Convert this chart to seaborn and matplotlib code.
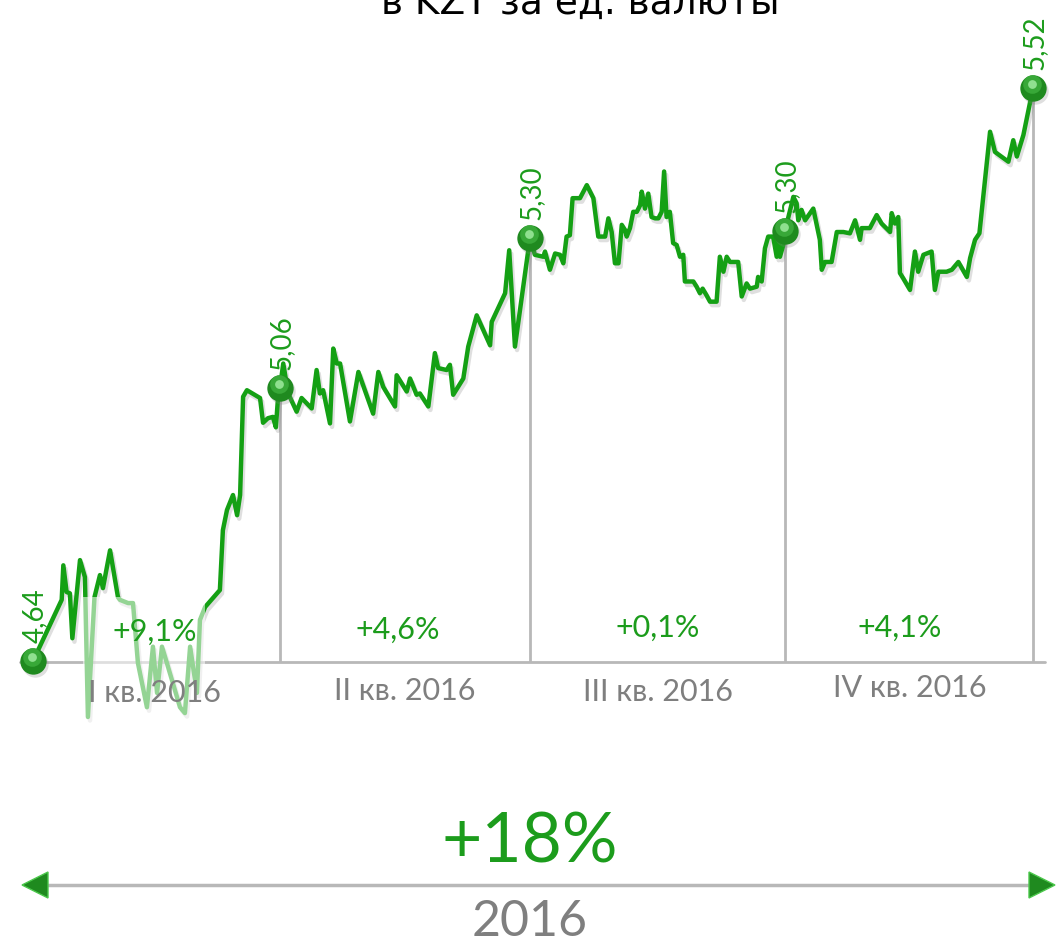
import numpy as np
import pandas as pd
import matplotlib.pyplot as plt
import matplotlib.patheffects as pe
import matplotlib.transforms as mtransforms
from matplotlib.patches import Rectangle, Polygon
import seaborn as sns

# Курс в KZT за ед. валюты, 2016 год (день года -> курс)
q1_days = [0, 10.5, 11.1, 12.3, 13.5, 14.4, 17.2, 19.0, 20.1, 22.5, 24.5, 25.6, 28.2, 31.1,
           31.8, 34.8, 36.6, 38.4, 41.7, 43.9, 45.4, 47.2, 49.0, 53.8, 55.6, 57.5, 60.0,
           61.1, 63.0, 65.9, 68.4, 69.5, 71.0, 73.2, 74.7, 75.8, 76.9, 78.3, 83.1, 84.2,
           86.0, 87.8, 88.9, 89.7]
q1_rate = [4.64, 4.734, 4.787, 4.746, 4.744, 4.675, 4.795, 4.769, 4.554, 4.738, 4.772, 4.752,
           4.810, 4.738, 4.734, 4.729, 4.729, 4.637, 4.569, 4.662, 4.591, 4.662, 4.637, 4.569,
           4.560, 4.662, 4.591, 4.703, 4.723, 4.737, 4.749, 4.841, 4.872, 4.895, 4.864, 4.895,
           5.046, 5.056, 5.044, 5.006, 5.013, 5.015, 4.999, 5.046]

q2_days = [90.4, 91.6, 93.4, 96.5, 98.3, 102.0, 103.8, 105.0, 106.2, 108.7, 109.9, 111.2, 112.4,
           116.0, 119.1, 124.5, 126.4, 128.2, 132.5, 133.1, 136.8, 138.0, 140.4, 141.6, 144.7,
           147.1, 148.3, 151.4, 152.6, 153.8, 157.5, 159.3, 162.4, 167.3, 167.9, 172.8, 174.3,
           176.4]
q2_rate = [5.06, 5.097, 5.051, 5.023, 5.044, 5.028, 5.087, 5.051, 5.056, 5.005, 5.120, 5.097,
           5.097, 5.008, 5.084, 5.020, 5.084, 5.061, 5.031, 5.079, 5.054, 5.074, 5.049, 5.051,
           5.031, 5.113, 5.090, 5.087, 5.095, 5.049, 5.074, 5.123, 5.171, 5.125, 5.161, 5.205,
           5.271, 5.123]

q3_days = [181.9, 183.7, 186.8, 187.4, 189.2, 191.1, 192.9, 194.1, 195.3, 196.5, 197.5, 200.2,
           202.7, 205.1, 206.9, 209.4, 210.6, 211.8, 213.0, 214.3, 215.5, 216.7, 217.3, 218.5,
           219.7, 221.0, 222.2, 222.8, 224.0, 225.2, 226.4, 227.7, 228.9, 230.1, 231.0, 231.9,
           233.1, 234.3, 235.6, 236.8, 238.0, 238.6, 241.7, 242.9, 244.1, 245.1, 246.5, 247.8,
           250.2, 251.4, 252.7, 253.9, 255.1, 258.1, 259.4, 261.2, 262.4, 264.9, 265.4, 266.7,
           267.9, 269.1, 270.9, 272.2, 272.8, 273.4, 274.6]
q3_rate = [5.29, 5.264, 5.261, 5.269, 5.241, 5.266, 5.264, 5.251, 5.292, 5.294, 5.351, 5.351,
           5.371, 5.351, 5.292, 5.292, 5.320, 5.299, 5.251, 5.251, 5.310, 5.302, 5.292, 5.305,
           5.330, 5.330, 5.340, 5.361, 5.335, 5.358, 5.322, 5.320, 5.320, 5.330, 5.392, 5.322,
           5.330, 5.282, 5.279, 5.261, 5.264, 5.223, 5.223, 5.215, 5.205, 5.212, 5.202, 5.192,
           5.192, 5.261, 5.238, 5.261, 5.253, 5.253, 5.200, 5.220, 5.212, 5.215, 5.230, 5.223,
           5.274, 5.292, 5.292, 5.261, 5.287, 5.261, 5.279]

q4_days = [275.2, 278.3, 279.5, 280.1, 281.3, 282.6, 285.6, 288.0, 288.7, 289.9, 292.3, 294.2,
           296.6, 299.0, 300.9, 302.7, 303.3, 306.3, 308.8, 310.6, 313.7, 314.3, 315.5, 316.7,
           317.3, 318.5, 321.0, 322.8, 324.0, 325.9, 328.9, 330.1, 331.4, 334.4, 336.3, 338.7,
           341.8, 343.0, 344.8, 346.4, 350.3, 352.1, 357.0, 358.8, 360.1, 362.5, 366]
q4_rate = [5.30, 5.353, 5.343, 5.317, 5.333, 5.317, 5.335, 5.287, 5.241, 5.253, 5.253, 5.299,
           5.299, 5.297, 5.317, 5.287, 5.305, 5.305, 5.325, 5.312, 5.299, 5.328, 5.312, 5.322,
           5.236, 5.228, 5.210, 5.269, 5.238, 5.264, 5.269, 5.210, 5.238, 5.238, 5.241, 5.253,
           5.230, 5.259, 5.287, 5.297, 5.453, 5.422, 5.407, 5.440, 5.415, 5.448, 5.52]

# точки на конец кварталов
point_days = [0, 90.4, 181.9, 275.2, 366]
point_rate = [4.64, 5.06, 5.29, 5.30, 5.52]
point_labels = ["4,64", "5,06", "5,30", "5,30", "5,52"]

quarter_names = ["I кв. 2016", "II кв. 2016", "III кв. 2016", "IV кв. 2016"]
quarter_change = ["+9,1%", "+4,6%", "+0,1%", "+4,1%"]
year_change = "+18%"
year_label = "2016"
title = "в KZT за ед. валюты"

df = pd.DataFrame({
    "day": q1_days + q2_days + q3_days + q4_days,
    "rate": q1_rate + q2_rate + q3_rate + q4_rate,
})

GREEN = "#14a014"
TXT_GREEN = "#1c9c1c"
GRAY = "#7f7f7f"

sns.set_style("white")
plt.rcParams["font.family"] = ["Lato", "DejaVu Sans"]

W, H = 1057, 947
fig = plt.figure(figsize=(W / 100, H / 100), dpi=100)
ax = fig.add_axes([0, 0, 1, 1])
ax.set_xlim(-12.08, 374.8)
ax.set_ylim(4.2007, 5.6554)
ax.axis("off")


def fx(x):
    return x / W


def fy(y):
    return 1 - y / H


base = point_rate[0]

# базовая линия и вертикали на конец кварталов
ax.plot([fx(20), fx(1045)], [fy(662), fy(662)], transform=ax.transAxes,
        color="#b8b8b8", lw=2, zorder=1)
for d, r in zip(point_days[1:], point_rate[1:]):
    ax.plot([d, d], [base, r], color="#b8b8b8", lw=2, zorder=1)

# линия курса
sns.lineplot(data=df, x="day", y="rate", ax=ax, color=GREEN, lw=3.2, zorder=3,
             sort=False, estimator=None,
             path_effects=[pe.SimpleLineShadow(offset=(1.5, -2.5), shadow_color="gray", alpha=0.25),
                           pe.Normal()])

# полупрозрачная подложка под подписью первого квартала
ax.add_patch(Rectangle((fx(83), fy(725)), fx(205) - fx(83), fy(597) - fy(725),
                       transform=ax.transAxes, facecolor="white", alpha=0.55,
                       edgecolor="none", zorder=4))

# шарики-маркеры
shadow = mtransforms.offset_copy(ax.transData, fig=fig, x=2, y=-3, units="dots")
hl = mtransforms.offset_copy(ax.transData, fig=fig, x=-1, y=4, units="dots")
ax.scatter(point_days, point_rate, s=360, color="gray", alpha=0.25, transform=shadow,
           linewidths=0, zorder=5)
ax.scatter(point_days, point_rate, s=360, color="#1f8a1f", linewidths=0, zorder=6)
ax.scatter(point_days, point_rate, s=180, color="#38a838", linewidths=0, zorder=6, transform=hl)
ax.scatter(point_days, point_rate, s=40, color="#8fe08f", linewidths=0, zorder=7, transform=hl)

label_off = mtransforms.offset_copy(ax.transData, fig=fig, x=2, y=18, units="dots")
for d, r, t in zip(point_days, point_rate, point_labels):
    ax.text(d, r, t, transform=label_off, rotation=90, ha="center", va="bottom",
            fontsize=20, color=TXT_GREEN, zorder=8)

# подписи кварталов
change_x = [155, 398, 658, 900]
change_y = [632, 630, 628, 628]
name_x = [155, 405, 658, 910]
name_y = [693, 691, 692, 688]
for i in range(4):
    ax.text(fx(change_x[i]), fy(change_y[i]), quarter_change[i], transform=ax.transAxes,
            ha="center", va="center", fontsize=22, color=TXT_GREEN, zorder=8)
    ax.text(fx(name_x[i]), fy(name_y[i]), quarter_names[i], transform=ax.transAxes,
            ha="center", va="center", fontsize=22, color=GRAY, zorder=8)

# заголовок (обрезан сверху)
ax.text(fx(580), fy(14), title, transform=ax.transAxes, ha="center", va="baseline",
        fontsize=27, color="black", family=["DejaVu Sans"])

# итог за год
ax.text(fx(530), fy(862), year_change, transform=ax.transAxes, ha="center", va="baseline",
        fontsize=50, color=TXT_GREEN)
ax.plot([fx(40), fx(1035)], [fy(885), fy(885)], transform=ax.transAxes,
        color="#b8b8b8", lw=2.5, zorder=1)
ax.add_patch(Polygon([(fx(22), fy(885)), (fx(48), fy(872)), (fx(48), fy(898))],
                     closed=True, transform=ax.transAxes, facecolor="#1f8a1f",
                     edgecolor="#4cc84c", lw=1, zorder=2))
ax.add_patch(Polygon([(fx(1055), fy(885)), (fx(1029), fy(872)), (fx(1029), fy(898))],
                     closed=True, transform=ax.transAxes, facecolor="#1f8a1f",
                     edgecolor="#4cc84c", lw=1, zorder=2))
ax.text(fx(530), fy(945), year_label, transform=ax.transAxes, ha="center", va="bottom",
        fontsize=36, color=GRAY)

fig.savefig("out.png", dpi=100)
